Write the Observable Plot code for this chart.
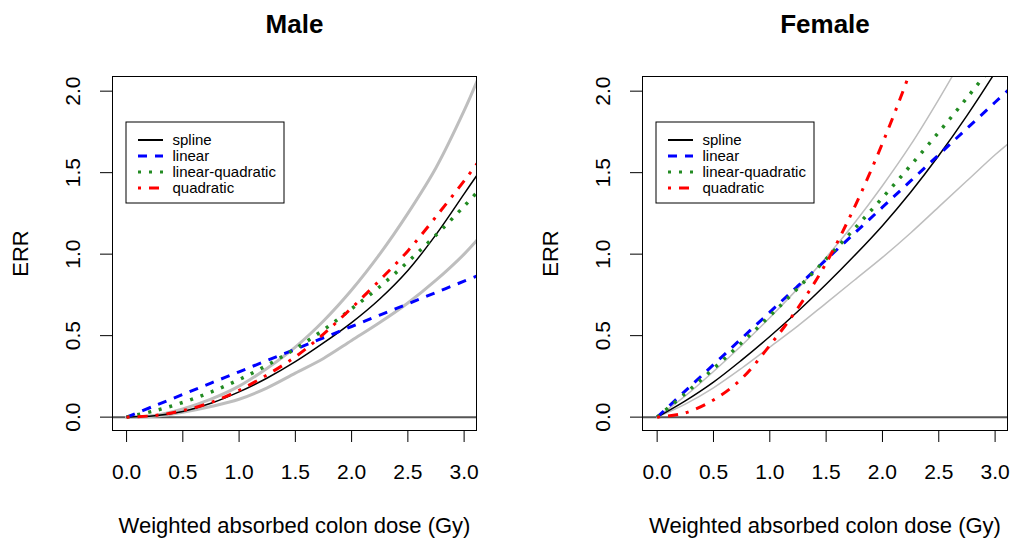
<!DOCTYPE html>
<html><head><meta charset="utf-8">
<script src="https://cdn.jsdelivr.net/npm/d3@7"></script>
<script src="https://cdn.jsdelivr.net/npm/@observablehq/plot@0.6"></script>
<style>
body{margin:0;background:#fff;}
#wrap{position:relative;width:1010px;height:540px;font-family:"Liberation Sans",Arial,sans-serif;}
.panel{position:absolute;top:0;}
</style></head><body><div id="wrap"></div>
<script>
const dose = [0, 0.25, 0.5, 0.75, 1.0, 1.25, 1.5, 1.75, 2.0, 2.25, 2.5, 2.75, 3.0, 3.12];

// Male
const maleSpline = [0, 0.008, 0.035, 0.085, 0.155, 0.24, 0.34, 0.455, 0.58, 0.725, 0.90, 1.12, 1.37, 1.49];
const maleLinear = [0, 0.07, 0.139, 0.209, 0.278, 0.348, 0.417, 0.487, 0.556, 0.626, 0.695, 0.765, 0.834, 0.867];
const maleLQ = [0, 0.039, 0.09, 0.154, 0.23, 0.319, 0.42, 0.535, 0.665, 0.80, 0.953, 1.117, 1.294, 1.383];
const maleQuad = [0, 0.01, 0.04, 0.09, 0.165, 0.26, 0.37, 0.51, 0.67, 0.84, 1.02, 1.23, 1.45, 1.56];
const maleUpper = [0, 0.01, 0.05, 0.11, 0.19, 0.30, 0.43, 0.59, 0.78, 1.00, 1.25, 1.53, 1.88, 2.07];
const maleLower = [0, 0.005, 0.03, 0.065, 0.11, 0.18, 0.27, 0.36, 0.47, 0.58, 0.70, 0.84, 1.00, 1.09];

// Female
const femaleSpline = [0, 0.10, 0.215, 0.35, 0.495, 0.65, 0.815, 0.99, 1.175, 1.38, 1.605, 1.85, 2.115, 2.25];
const femaleLinear = [0, 0.161, 0.322, 0.483, 0.644, 0.805, 0.966, 1.127, 1.288, 1.449, 1.61, 1.771, 1.932, 2.009];
const femaleLQ = [0, 0.145, 0.297, 0.456, 0.621, 0.792, 0.97, 1.155, 1.346, 1.544, 1.748, 1.959, 2.177, 2.283];
const femaleQuad = [0, 0.026, 0.105, 0.236, 0.44, 0.67, 0.945, 1.286, 1.68, 2.126, 2.625, 3.176, 3.78, 4.09];
const femaleUpper = [0, 0.13, 0.28, 0.44, 0.61, 0.79, 0.98, 1.19, 1.42, 1.67, 1.95, 2.25, 2.57, 2.73];
const femaleLower = [0, 0.08, 0.18, 0.30, 0.43, 0.56, 0.70, 0.84, 0.98, 1.13, 1.29, 1.45, 1.61, 1.68];

const xTicks = [0, 0.5, 1, 1.5, 2, 2.5, 3];
const yTicks = [0, 0.5, 1, 1.5, 2];
const seriesNames = ["spline", "linear", "linear-quadratic", "quadratic"];
const seriesColors = ["#000000", "#0000ff", "#228b22", "#ff0000"];
const seriesDash = [null, "9,8", "3,8", "3,8,10,8"];
const seriesWidth = [1.5, 3, 3.5, 3];
const legendWidth = [2, 3, 3, 3];
const xLabel = "Weighted absorbed colon dose (Gy)";
const yLabel = "ERR";

function rows(vals) { return dose.map((d, i) => ({d, v: vals[i]})); }

function panel({title, series, upper, lower, marginLeft, marginRight, xDomain, grayWidth}) {
  const W = 505, H = 540, mt = 76, mb = 110;
  const marks = [
    Plot.ruleY([0], {stroke: "#555555", strokeWidth: 2}),
    Plot.line(rows(upper), {x: "d", y: "v", stroke: "#bebebe", strokeWidth: grayWidth, curve: "catmull-rom", clip: true}),
    Plot.line(rows(lower), {x: "d", y: "v", stroke: "#bebebe", strokeWidth: grayWidth, curve: "catmull-rom", clip: true}),
  ];
  series.forEach((vals, i) => {
    marks.push(Plot.line(rows(vals), {x: "d", y: "v", stroke: seriesColors[i], strokeWidth: seriesWidth[i],
      strokeDasharray: seriesDash[i], strokeLinecap: "butt", curve: "catmull-rom", clip: true}));
  });
  marks.push(
    Plot.frame({stroke: "#000"}),
    Plot.axisX({ticks: xTicks, tickSize: 12, tickPadding: 22, fontSize: 21, tickFormat: d3.format(".1f"), label: null, stroke: "#000"}),
    Plot.axisY({ticks: yTicks, tickSize: 12, tickFormat: () => "", label: null}),
    Plot.text(yTicks, {y: d => d, frameAnchor: "left", dx: -39.5, rotate: -90, text: d => d3.format(".1f")(d), fontSize: 21, fill: "#000", textAnchor: "middle", lineAnchor: "middle"}),
    Plot.text([yLabel], {frameAnchor: "left", dx: -92, rotate: -90, text: d => d, fontSize: 22, fill: "#000", textAnchor: "middle", lineAnchor: "middle"}),
    Plot.text([title], {frameAnchor: "top", dy: -52, text: d => d, fontSize: 26, fontWeight: "bold", fill: "#000", lineAnchor: "middle"}),
    Plot.text([xLabel], {frameAnchor: "bottom", dy: 95, text: d => d, fontSize: 22, fill: "#000", lineAnchor: "middle"})
  );
  const svg = Plot.plot({
    width: W, height: H, marginLeft, marginRight, marginTop: mt, marginBottom: mb,
    x: {domain: xDomain},
    y: {domain: [-0.082, 2.09]},
    style: {fontFamily: "'Liberation Sans', Arial, sans-serif", fontSize: "21px", background: "transparent", color: "#000", overflow: "visible"},
    marks
  });
  // legend
  const g = d3.select(svg).append("g");
  const x0 = marginLeft + 14, y0 = 122;
  g.append("rect").attr("x", x0).attr("y", y0).attr("width", 158).attr("height", 81)
    .attr("fill", "white").attr("stroke", "#000").attr("stroke-width", 1);
  seriesNames.forEach((name, i) => {
    const y = y0 + 18 + 16 * i;
    g.append("line").attr("x1", x0 + 12).attr("x2", x0 + 37).attr("y1", y).attr("y2", y)
      .attr("stroke", seriesColors[i]).attr("stroke-width", legendWidth[i])
      .attr("stroke-dasharray", seriesDash[i]);
    g.append("text").attr("x", x0 + 46.5).attr("y", y).attr("dy", "0.35em")
      .attr("text-anchor", "start").attr("font-size", 15).attr("fill", "#000").text(name);
  });
  return svg;
}

const wrap = document.getElementById("wrap");
const left = document.createElement("div"); left.className = "panel"; left.style.left = "0px";
left.appendChild(panel({title: "Male", series: [maleSpline, maleLinear, maleLQ, maleQuad], upper: maleUpper, lower: maleLower,
  marginLeft: 112, marginRight: 29, xDomain: [-0.125, 3.11], grayWidth: 3}));
const right = document.createElement("div"); right.className = "panel"; right.style.left = "505px";
right.appendChild(panel({title: "Female", series: [femaleSpline, femaleLinear, femaleLQ, femaleQuad], upper: femaleUpper, lower: femaleLower,
  marginLeft: 137, marginRight: 3, xDomain: [-0.13, 3.11], grayWidth: 1.5}));
wrap.appendChild(left); wrap.appendChild(right);
</script></body></html>
